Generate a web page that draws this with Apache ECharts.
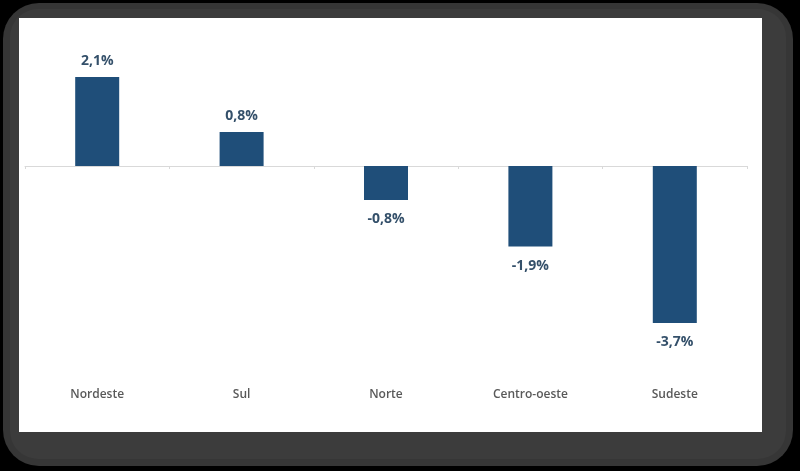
<!DOCTYPE html>
<html>
<head>
<meta charset="utf-8">
<script src="https://cdn.jsdelivr.net/npm/echarts@6/dist/echarts.min.js"></script>
<style>
html,body{margin:0;padding:0;background:#000;}
#chart{width:800px;height:471px;}
</style>
</head>
<body>
<div id="chart"></div>
<script>
const categories = ['Nordeste', 'Sul', 'Norte', 'Centro-oeste', 'Sudeste'];
const values = [2.1, 0.8, -0.8, -1.9, -3.7];

const chart = echarts.init(document.getElementById('chart'), null, {renderer: 'canvas'});
const fmt = v => v.toFixed(1).replace('.', ',') + '%';

chart.setOption({
  backgroundColor: '#000',
  animation: false,
  graphic: [
    {type: 'rect', z: -20, shape: {x: 3, y: 3, width: 790, height: 463, r: 36}, style: {fill: '#363636'}},
    {type: 'rect', z: -20, shape: {x: 10, y: 9, width: 776, height: 450, r: 28}, style: {fill: '#3c3c3c'}},
    {type: 'rect', z: -20, shape: {x: 19, y: 18, width: 743, height: 414}, style: {fill: '#ffffff'}}
  ],
  grid: {left: 25, right: 53, top: 60, height: 318, containLabel: false},
  xAxis: [
    {
      type: 'category', data: categories,
      axisLine: {onZero: true, lineStyle: {color: '#d9d9d9', width: 1}},
      axisTick: {show: true, length: 3, lineStyle: {color: '#d9d9d9'}},
      axisLabel: {show: false}
    },
    {
      type: 'category', data: categories, position: 'bottom',
      axisLine: {show: false, onZero: false},
      axisTick: {show: false},
      axisLabel: {show: true, margin: 11, color: '#595959', fontSize: 12, fontWeight: 600, fontFamily: 'Open Sans'}
    }
  ],
  yAxis: {type: 'value', min: -5, max: 2.5, show: false, splitLine: {show: false}},
  series: [{
    type: 'bar',
    xAxisIndex: 0,
    barWidth: 44,
    itemStyle: {color: '#1f4e79'},
    data: values.map(v => ({
      value: v,
      label: v >= 0 ? {position: 'top', distance: 9} : {position: 'bottom', distance: 12}
    })),
    label: {
      show: true,
      formatter: p => fmt(p.value),
      color: '#34506a', fontSize: 14, fontWeight: 'bold', fontFamily: 'Open Sans'
    }
  }]
});
</script>
</body>
</html>
